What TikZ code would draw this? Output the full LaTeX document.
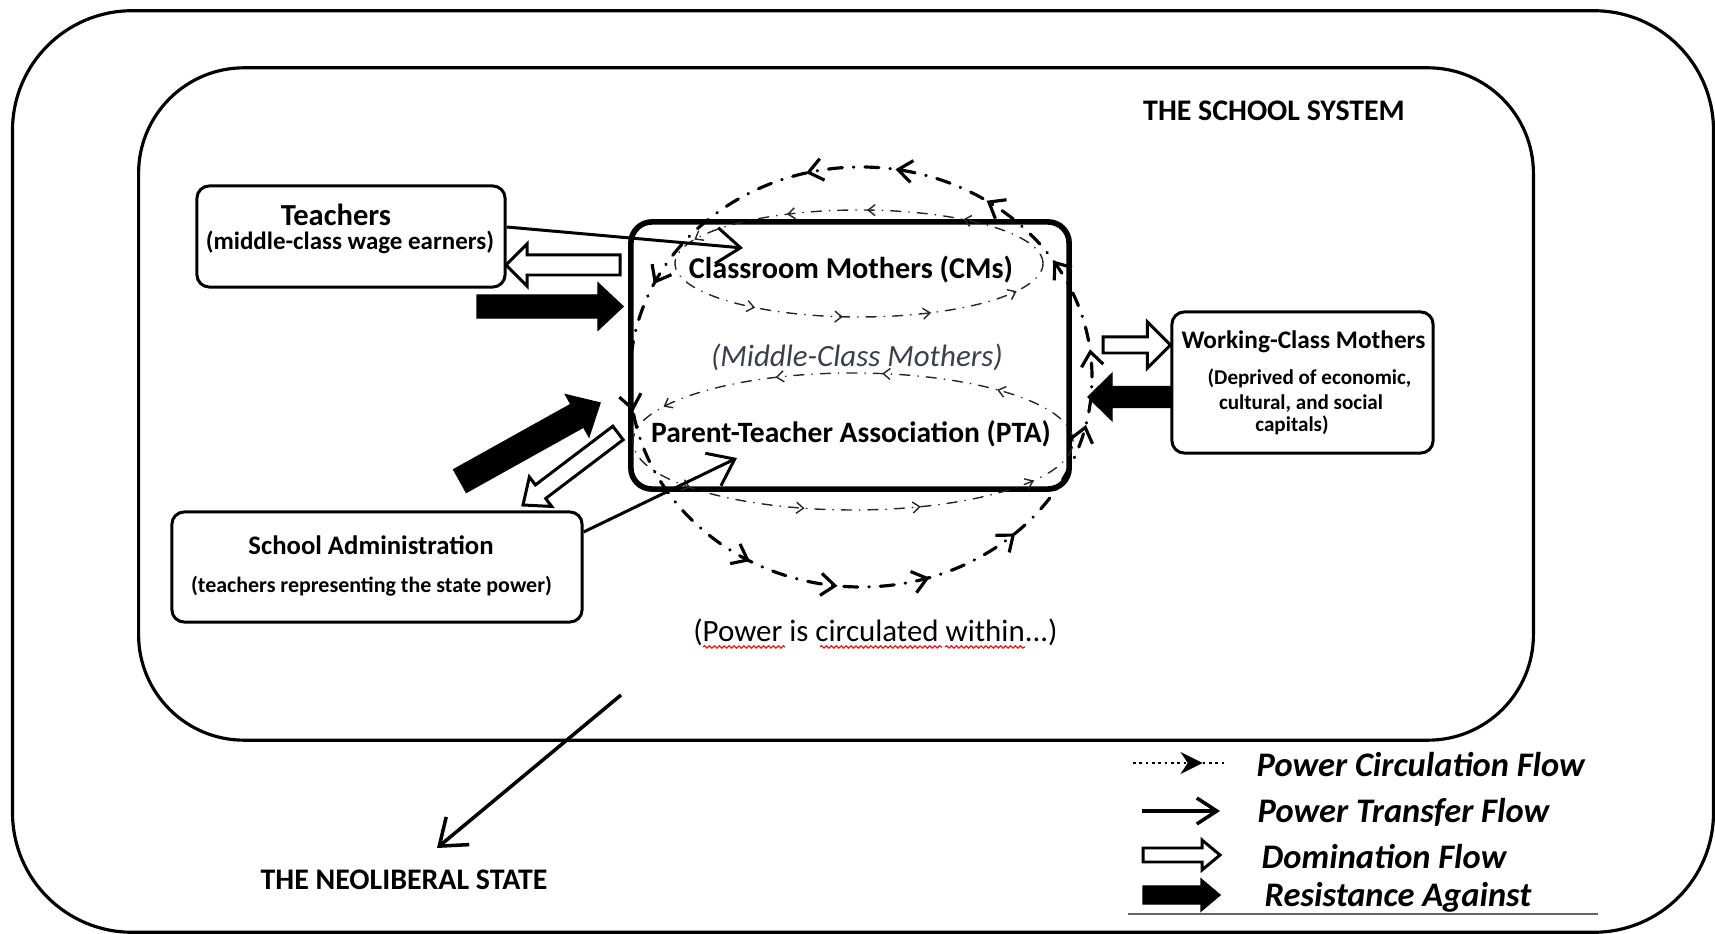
\documentclass[tikz,border=0pt]{standalone}
\usepackage{fontspec}
\setmainfont{Carlito}
\usetikzlibrary{arrows.meta,calc,decorations.markings,decorations.pathmorphing}
\newcommand\fs[1]{\fontsize{#1}{#1}\selectfont}
\newcommand\bigtip{\arrow{Straight Barb[length=1.4mm,width=2.2mm]}}
\newcommand\smalltip{\arrow{Straight Barb[length=0.7mm,width=1.1mm]}}
% #1 name, #2 style, #3 tail, #4 tip, #5 half shaft, #6 half head, #7 head length
\newcommand\blockarrow[7]{%
  \coordinate (#1h) at ($(#4)!#7!(#3)$);
  \draw[#2] ($(#3)!#5!90:(#4)$) -- ($(#1h)!#5!90:(#4)$) -- ($(#1h)!#6!90:(#4)$) -- (#4)
     -- ($(#1h)!#6!-90:(#4)$) -- ($(#1h)!#5!-90:(#4)$) -- ($(#3)!#5!-90:(#4)$) -- cycle;}
\begin{document}
\begin{tikzpicture}[x=0.01cm,y=0.01cm,
  frame/.style={draw, line width=0.9pt, inner sep=0pt},
  box/.style={draw, line width=0.85pt, rounded corners=3.5pt, inner sep=0pt},
  core/.style={draw, line width=1.6pt, rounded corners=6pt, inner sep=0pt},
  lbl/.style={inner sep=0pt, align=center},
  transfer/.style={line width=0.85pt, -{Straight Barb[length=2.4mm,width=3.6mm]}},
  solidarrow/.style={fill=black, draw=black, line width=0.4pt, line join=miter},
  hollowarrow/.style={fill=white, draw=black, line width=0.85pt, line join=miter},
  circbig/.style={line width=0.9pt, line cap=round, dash pattern=on 1.4mm off 1.1mm on 0.05mm off 1.1mm},
  circsmall/.style={line width=0.4pt, draw=black!85, line cap=round, dash pattern=on 1.0mm off 0.8mm on 0.05mm off 0.8mm},
  squiggle/.style={red, line width=0.3pt, decorate, decoration={snake, amplitude=0.35pt, segment length=1.4pt}},
  legtext/.style={anchor=west, inner sep=0pt, font=\fs{9.8}\bfseries\itshape},
]
\useasboundingbox (0,0) rectangle (1715,-934);

% frames
\node[frame, rounded corners=34pt, minimum width=17.00cm, minimum height=9.21cm] (outer) at (863,-471.5) {};
\node[frame, rounded corners=30pt, minimum width=13.94cm, minimum height=6.72cm] (school) at (836,-404) {};
\node[lbl, font=\fs{8.5}\bfseries] (schoollbl) at (1274,-110.5) {THE SCHOOL SYSTEM};
\node[lbl, font=\fs{8.5}\bfseries] (statelbl) at (404,-880) {THE NEOLIBERAL STATE};

% central box
\node[core, minimum width=4.38cm, minimum height=2.67cm] (core) at (850,-355.5) {};

% circulation ellipses
\draw[circsmall, postaction=decorate, decoration={markings,
   mark=at position 0.12 with {\smalltip},
   mark=at position 0.24 with {\smalltip},
   mark=at position 0.34 with {\smalltip},
   mark=at position 0.46 with {\smalltip},
   mark=at position 0.62 with {\smalltip},
   mark=at position 0.73 with {\smalltip},
   mark=at position 0.84 with {\smalltip},
   mark=at position 0.95 with {\smalltip}}]
   (859,-263.5) ellipse [x radius=184, y radius=53.5];
\draw[circsmall, postaction=decorate, decoration={markings,
   mark=at position 0.10 with {\smalltip},
   mark=at position 0.22 with {\smalltip},
   mark=at position 0.33 with {\smalltip},
   mark=at position 0.45 with {\smalltip},
   mark=at position 0.58 with {\smalltip},
   mark=at position 0.70 with {\smalltip},
   mark=at position 0.82 with {\smalltip},
   mark=at position 0.94 with {\smalltip}}]
   (853,-441.5) ellipse [x radius=220, y radius=68.5];
\draw[circbig, postaction=decorate, decoration={markings,
   mark=at position 0.02 with {\bigtip},
   mark=at position 0.09 with {\bigtip},
   mark=at position 0.155 with {\bigtip},
   mark=at position 0.225 with {\bigtip},
   mark=at position 0.29 with {\bigtip},
   mark=at position 0.43 with {\bigtip},
   mark=at position 0.525 with {\bigtip},
   mark=at position 0.667 with {\bigtip},
   mark=at position 0.733 with {\bigtip},
   mark=at position 0.80 with {\bigtip},
   mark=at position 0.87 with {\bigtip},
   mark=at position 0.965 with {\bigtip}}]
   (861,-377) ellipse [x radius=231, y radius=210];

\node[lbl, font=\fs{8.6}\bfseries] (cms) at (851,-270) {Classroom Mothers (CMs)};
\node[lbl, font=\fs{8.8}\itshape, text={rgb,255:red,60;green,62;blue,78}] (mid) at (857,-357) {(Middle-Class Mothers)};
\node[lbl, font=\fs{8.4}\bfseries] (pta) at (851,-434) {Parent-Teacher Association (PTA)};

% teachers
\node[box, minimum width=3.08cm, minimum height=1.01cm] (teach) at (351,-236.5) {};
\node[lbl, font=\fs{8.7}\bfseries] (teachT) at (336,-215) {Teachers};
\node[lbl, font=\fs{7.1}\bfseries] (teachS) at (350,-242) {(middle-class wage earners)};

% school administration
\node[box, minimum width=4.10cm, minimum height=1.10cm] (admin) at (377,-567) {};
\node[lbl, font=\fs{7.6}\bfseries] (adminT) at (371,-545) {School Administration};
\node[lbl, font=\fs{6.25}\bfseries] (adminS) at (371.5,-586) {(teachers representing the state power)};

% working-class mothers
\node[box, minimum width=2.61cm, minimum height=1.41cm] (wcm) at (1302.5,-382.5) {};
\node[lbl, font=\fs{7.2}\bfseries] (wcmT) at (1303.5,-342) {Working-Class Mothers};
\node[lbl, font=\fs{6.0}\bfseries] (wcmS1) at (1309.5,-378) {(Deprived of economic,};
\node[lbl, font=\fs{6.0}\bfseries] (wcmS2) at (1301,-404) {cultural, and social};
\node[lbl, font=\fs{6.0}\bfseries] (wcmS3) at (1292,-425) {capitals)};

% power transfer arrows
\coordinate (tA) at (teach.east |- 0,-227);
\coordinate (tB) at (743,-248);
\draw[transfer] (tA) -- (tB);
\coordinate (aA) at (admin.east |- 0,-532);
\coordinate (aB) at (737,-458);
\draw[transfer] (aA) -- (aB);
\coordinate (nA) at (621,-695);
\coordinate (nB) at (437,-848);
\draw[transfer, line width=1pt] (nA) -- (nB);

% domination / resistance block arrows
\coordinate (domTa) at (620,-265);  \coordinate (domTb) at (506,-265);
\blockarrow{domT}{hollowarrow}{domTa}{domTb}{1.0mm}{2.1mm}{2.1mm}
\coordinate (resTa) at (477,-306.5); \coordinate (resTb) at (623,-306.5);
\blockarrow{resT}{solidarrow}{resTa}{resTb}{1.15mm}{2.35mm}{2.5mm}
\coordinate (resAa) at (460,-481); \coordinate (resAb) at (600,-403);
\blockarrow{resA}{solidarrow}{resAa}{resAb}{1.3mm}{2.4mm}{2.6mm}
\coordinate (domAa) at (618,-433); \coordinate (domAb) at (523,-505);
\blockarrow{domA}{hollowarrow}{domAa}{domAb}{0.85mm}{1.85mm}{2.2mm}
\coordinate (domWa) at (1103,-345); \coordinate (domWb) at (wcm.west |- 0,-345);
\blockarrow{domW}{hollowarrow}{domWa}{domWb}{0.8mm}{2.3mm}{2.3mm}
\coordinate (resWa) at (wcm.west |- 0,-397); \coordinate (resWb) at (1088,-397);
\blockarrow{resW}{solidarrow}{resWa}{resWb}{1.05mm}{2.35mm}{2.4mm}

% power circulated label
\node[lbl, font=\fs{8.8}] (within) at (875.5,-632) {(Power is circulated within...)};
\coordinate (sq1a) at (703,-647); \coordinate (sq1b) at (785,-647);
\coordinate (sq2a) at (820,-647); \coordinate (sq2b) at (942,-647);
\coordinate (sq3a) at (945,-647); \coordinate (sq3b) at (1025,-647);
\draw[squiggle] (sq1a) -- (sq1b);
\draw[squiggle] (sq2a) -- (sq2b);
\draw[squiggle] (sq3a) -- (sq3b);

% legend
\coordinate (lg1a) at (1133,-763); \coordinate (lg1b) at (1227,-763);
\draw[densely dotted, line width=0.8pt, postaction=decorate, decoration={markings,
   mark=at position 0.74 with {\arrow{Stealth[length=2.2mm,width=2.2mm]}}}] (lg1a) -- (lg1b);
\coordinate (lg2a) at (1142,-811); \coordinate (lg2b) at (1220,-811);
\draw[transfer, line width=1pt, -{Straight Barb[length=2.0mm,width=2.6mm]}] (lg2a) -- (lg2b);
\coordinate (lg3a) at (1143,-855); \coordinate (lg3b) at (1220,-855);
\blockarrow{lg3}{hollowarrow}{lg3a}{lg3b}{0.7mm}{1.5mm}{1.8mm}
\coordinate (lg4a) at (1143,-895); \coordinate (lg4b) at (1220,-895);
\blockarrow{lg4}{solidarrow}{lg4a}{lg4b}{0.9mm}{1.6mm}{1.9mm}
\node[legtext] (leg1) at (1256,-765) {Power Circulation Flow};
\node[legtext] (leg2) at (1257,-812) {Power Transfer Flow};
\node[legtext] (leg3) at (1261,-857) {Domination Flow};
\node[legtext] (leg4) at (1264,-897) {Resistance Against};
\coordinate (ulA) at (1128,-914); \coordinate (ulB) at (1598,-914);
\draw[black!60, line width=0.5pt] (ulA) -- (ulB);
\end{tikzpicture}
\end{document}
